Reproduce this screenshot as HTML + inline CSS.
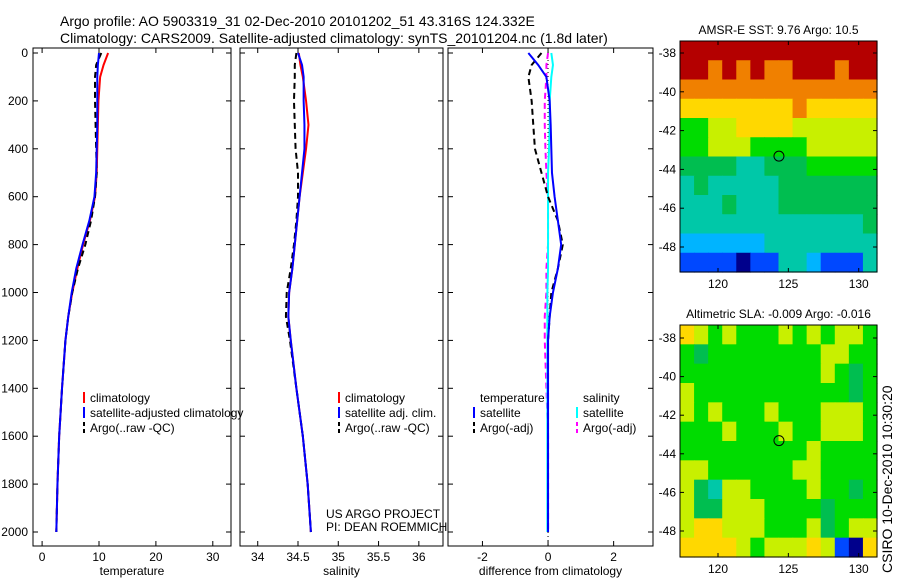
<!DOCTYPE html>
<html><head><meta charset="utf-8"><style>
body{margin:0;background:#fff;width:900px;height:580px;overflow:hidden}
svg text{font-family:"Liberation Sans",sans-serif;font-size:12px;fill:#000}
</style></head><body>
<svg id="c" width="900" height="580" xmlns="http://www.w3.org/2000/svg">
<text x="60" y="26" style="font-size:14px">Argo profile: AO 5903319_31 02-Dec-2010 20101202_51 43.316S 124.332E</text>
<text x="60" y="43" style="font-size:14px">Climatology: CARS2009. Satellite-adjusted climatology: synTS_20101204.nc (1.8d later)</text>
<g id="g"></g>
<text transform="translate(892,573) rotate(-90)" style="font-size:14px">CSIRO 10-Dec-2010 10:30:20</text>
</svg>
<script>
// ---------- data ----------
const depthTicks=[0,200,400,600,800,1000,1200,1400,1600,1800,2000];
const depth=[0,50,100,200,300,400,500,600,700,800,900,1000,1100,1200,1400,1600,1800,2000];
const tempClim=[11.6,10.8,10.2,9.9,9.8,9.7,9.6,9.3,8.4,7.2,6.2,5.3,4.6,4.1,3.5,3.0,2.7,2.5];
const tempSat=[10.0,9.8,9.7,9.7,9.7,9.6,9.5,9.2,8.3,7.1,6.0,5.2,4.6,4.1,3.5,3.0,2.7,2.5];
const tempArgo=[10.4,9.5,9.3,9.3,9.4,9.5,9.6,9.3,8.6,7.6,6.3,5.3,4.6,4.1,3.5,3.0,2.7,2.5];
const salClim=[34.51,34.53,34.56,34.6,34.63,34.6,34.56,34.52,34.49,34.46,34.43,34.39,34.38,34.41,34.48,34.56,34.62,34.66];
const salSat=[34.5,34.55,34.57,34.57,34.58,34.58,34.55,34.52,34.49,34.46,34.43,34.39,34.38,34.41,34.48,34.56,34.62,34.66];
const salArgo=[34.48,34.46,34.46,34.45,34.46,34.47,34.5,34.5,34.48,34.45,34.41,34.36,34.35,34.4,34.48,34.56,34.62,34.66];
const dTsat=[-0.6,-0.3,-0.05,0.05,0.08,0.1,0.12,0.2,0.3,0.4,0.3,0.15,0.05,0,0,0,0,0];
const dTargo=[-0.2,-0.5,-0.6,-0.5,-0.45,-0.4,-0.2,0,0.3,0.45,0.3,0.1,0.05,0,0,0,0,0];
const dSsat=[0.1,0.15,0.1,0.05,0.05,0.03,0,0,0,0,0,-0.02,-0.02,-0.02,-0.02,-0.02,-0.02,-0.02];
const dSargo=[0,-0.05,-0.05,-0.1,-0.1,-0.08,-0.05,0,0,0,-0.05,-0.05,-0.1,-0.1,-0.05,0,0,0];
const tempTicks=[0,10,20,30], salTicks=[34,34.5,35,35.5,36], diffTicks=[-2,0,2];
const lonTicks=[120,125,130], latTicks=[-38,-40,-42,-44,-46,-48];
const sstGrid=["99999999999999","99898988999899","88888888888888","77777777877777","55667777666666","55666555566666","44443344455555","34333334444444","33343334444444","33333333333334","22222233333333","11110113321113"];
const slaGrid=["76565556565665","54555555556655","55555555556545","65555555555545","65655565556665","55565556556665","55555555565555","66555555665555","64366555565545","64466655554555","67766655564566","77776566676107"];
const argoLon=124.332, argoLat=-43.316;
// ---------- helpers ----------
const palette=['#00008c','#0048ff','#00b4ff','#00c8a8','#00be50','#00dc00','#c8f000','#ffd800','#f08000','#b40000'];
const g=document.getElementById('g');const NS='http://www.w3.org/2000/svg';
function mk(t,a,p){const e=document.createElementNS(NS,t);for(const k in a)e.setAttribute(k,a[k]);(p||g).appendChild(e);return e;}
const y0=53, ypx=479/2000, yTop=48, yBot=546;
const yD=d=>y0+d*ypx;
function panel(name,x0,x1,xmin,xmax,ticks,label){
 const xs=v=>x0+(v-xmin)/(xmax-xmin)*(x1-x0);
 const r=mk('rect',{x:x0,y:yTop,width:x1-x0,height:yBot-yTop,fill:'none',stroke:'#000'});
 
 ticks.forEach(t=>{mk('line',{x1:xs(t),x2:xs(t),y1:yBot,y2:yBot-5,stroke:'#000'});mk('line',{x1:xs(t),x2:xs(t),y1:yTop,y2:yTop+5,stroke:'#000'});
  const tx=mk('text',{x:xs(t),y:yBot+15,'text-anchor':'middle'});tx.textContent=t;});
 depthTicks.forEach(d=>{mk('line',{x1:x0,x2:x0+5,y1:yD(d),y2:yD(d),stroke:'#000'});mk('line',{x1:x1,x2:x1-5,y1:yD(d),y2:yD(d),stroke:'#000'});});
 const l=mk('text',{x:(x0+x1)/2,y:yBot+29,'text-anchor':'middle'});l.textContent=label;
 return xs;}
function line(xs,vals,col,w,dash,name){
 const e=mk('polyline',{points:vals.map((v,i)=>xs(v)+','+yD(depth[i])).join(' '),fill:'none',stroke:col,'stroke-width':w,'stroke-dasharray':dash||'none'});
 }
function legend(x,y,items,name){items.forEach((it,i)=>{const yy=y+i*15;
 if(it[0])mk('line',{x1:x,x2:x,y1:yy-10,y2:yy+1,stroke:it[0],'stroke-width':2,'stroke-dasharray':it[2]||'none'});
 const t=mk('text',{x:x+6,y:yy});t.textContent=it[1];});}
depthTicks.forEach(d=>{const t=mk('text',{x:28,y:yD(d)+4,'text-anchor':'end'});t.textContent=d;});
const xt=panel('temperature-panel',33,231,-1.6,33.2,tempTicks,'temperature');
line(xt,tempClim,'#f00',2,null,'temp-climatology-line');
line(xt,tempArgo,'#000',2,'6,4','temp-argo-line');
line(xt,tempSat,'#00f',2,null,'temp-satellite-line');
legend(84,402,[['#f00','climatology'],['#00f','satellite-adjusted climatology'],['#000','Argo(..raw -QC)','4,3']],'temp-legend');
const xsal=panel('salinity-panel',240,443,33.78,36.3,salTicks,'salinity');
line(xsal,salClim,'#f00',2,null,'sal-climatology-line');
line(xsal,salArgo,'#000',2,'6,4','sal-argo-line');
line(xsal,salSat,'#00f',2,null,'sal-satellite-line');
legend(339,402,[['#f00','climatology'],['#00f','satellite adj. clim.'],['#000','Argo(..raw -QC)','4,3']],'sal-legend');
const p1=mk('text',{x:326,y:518});p1.textContent='US ARGO PROJECT';
const p2=mk('text',{x:326,y:531});p2.textContent='PI: DEAN ROEMMICH';
const xd=panel('difference-panel',448,653,-3.05,3.2,diffTicks,'difference from climatology');
mk('line',{x1:xd(0),x2:xd(0),y1:yTop,y2:yBot,stroke:'#000','stroke-dasharray':'1,3'});
line(xd,dSargo,'#f0f',2,'6,4','sal-diff-argo-line');
line(xd,dSsat,'#0ff',2,null,'sal-diff-satellite-line');
line(xd,dTargo,'#000',2,'6,4','temp-diff-argo-line');
line(xd,dTsat,'#00f',2,null,'temp-diff-satellite-line');
legend(474,402,[[null,'temperature'],['#00f','satellite'],['#000','Argo(-adj)','4,3']],'temp-diff-legend');
legend(577,402,[[null,'salinity'],['#0ff','satellite'],['#f0f','Argo(-adj)','4,3']],'sal-diff-legend');
function map(name,x0,y0m,w,h,grid,title,latY38,latPx){
 const lonMin=117.3,lonMax=131.3;const xs=v=>x0+(v-lonMin)/(lonMax-lonMin)*w;const ys=v=>latY38+(-38-v)*latPx;
 const rows=grid.length,cols=grid[0].length;
 grid.forEach((row,i)=>{for(let j=0;j<cols;j++){const c=mk('rect',{x:x0+j*w/cols,y:y0m+i*h/rows,width:w/cols+0.6,height:h/rows+0.6,fill:palette[+row[j]]});
  }});
 mk('rect',{x:x0,y:y0m,width:w,height:h,fill:'none',stroke:'#000'});
 lonTicks.forEach(t=>{mk('line',{x1:xs(t),x2:xs(t),y1:y0m+h,y2:y0m+h-4,stroke:'#000'});mk('line',{x1:xs(t),x2:xs(t),y1:y0m,y2:y0m+4,stroke:'#000'});
  const tx=mk('text',{x:xs(t),y:y0m+h+16,'text-anchor':'middle'});tx.textContent=t;});
 latTicks.forEach(t=>{mk('line',{x1:x0,x2:x0+4,y1:ys(t),y2:ys(t),stroke:'#000'});mk('line',{x1:x0+w,x2:x0+w-4,y1:ys(t),y2:ys(t),stroke:'#000'});
  const tx=mk('text',{x:x0-4,y:ys(t)+4,'text-anchor':'end'});tx.textContent=t;});
 const c=mk('circle',{cx:xs(argoLon),cy:ys(argoLat),r:5,fill:'none',stroke:'#000'});
 const t=mk('text',{x:x0+w/2,y:y0m-7,'text-anchor':'middle'});t.textContent=title;}
map('sst-map',680,41,197,231,sstGrid,'AMSR-E SST: 9.76 Argo: 10.5',53,19.4);
map('sla-map',680,325,197,232,slaGrid,'Altimetric SLA: -0.009 Argo: -0.016',338,19.3);
</script>
</body></html>
